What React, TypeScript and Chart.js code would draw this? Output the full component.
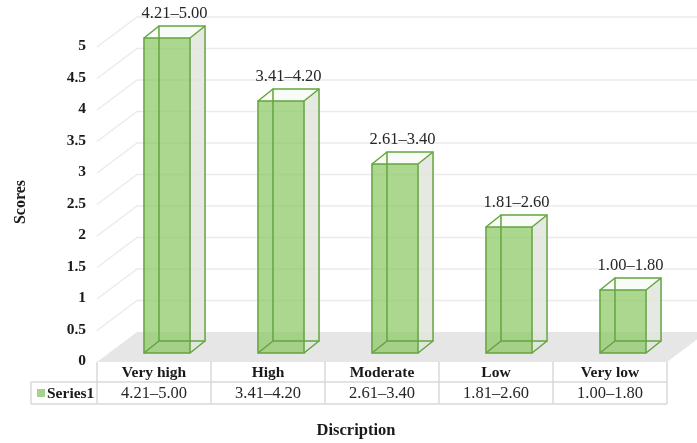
import React, { useEffect, useRef } from 'react';
import { Chart, registerables } from 'chart.js';

Chart.register(...registerables);

const categories = ['Very high', 'High', 'Moderate', 'Low', 'Very low'];
const scores = [5, 4, 3, 2, 1];
const ranges = ['4.21–5.00', '3.41–4.20', '2.61–3.40', '1.81–2.60', '1.00–1.80'];
const seriesName = 'Series1';
const yTitle = 'Scores';
const xTitle = 'Discription';
const yMin = 0;
const yMax = 5;
const yStep = 0.5;

const W = 697;
const H = 443;
const SERIF = '"Liberation Serif", "Times New Roman", serif';
const GREEN_EDGE = '#63a53f';
const GREEN_FILL = 'rgba(140,200,100,0.72)';

const WALL = { dx: 40, dy: -30 };
const FRONT = { dx: 13, dy: -9 };
const BACK = { dx: 28, dy: -21 };

const threeD = {
  id: 'threeD',
  beforeDatasetsDraw(chart: any) {
    const { ctx, chartArea: a, scales } = chart;
    const ys = scales.y;
    const y0 = ys.getPixelForValue(0);
    ctx.save();
    // floor
    ctx.fillStyle = '#e6e6e6';
    ctx.beginPath();
    ctx.moveTo(a.left, y0);
    ctx.lineTo(a.left + WALL.dx, y0 + WALL.dy);
    ctx.lineTo(a.right + WALL.dx, y0 + WALL.dy);
    ctx.lineTo(a.right, y0);
    ctx.closePath();
    ctx.fill();
    // gridlines on back wall
    ctx.strokeStyle = '#ebebeb';
    ctx.lineWidth = 1.5;
    ys.ticks.forEach((t: any) => {
      if (t.value === 0) return;
      const py = ys.getPixelForValue(t.value);
      ctx.beginPath();
      ctx.moveTo(a.left, py);
      ctx.lineTo(a.left + WALL.dx, py + WALL.dy);
      ctx.lineTo(W, py + WALL.dy);
      ctx.stroke();
    });
    ctx.restore();
  },
  afterDatasetsDraw(chart: any) {
    const { ctx } = chart;
    const meta = chart.getDatasetMeta(0);
    ctx.save();
    meta.data.forEach((el: any, i: number) => {
      const p = el.getProps(['x', 'y', 'base', 'width'], true);
      const l = p.x - p.width / 2;
      const r = p.x + p.width / 2;
      const f = { L: l + FRONT.dx, R: r + FRONT.dx, T: p.y + FRONT.dy, B: p.base + FRONT.dy };
      const b = { L: l + BACK.dx, R: r + BACK.dx, T: p.y + BACK.dy, B: p.base + BACK.dy };
      // side face
      ctx.fillStyle = 'rgba(226,229,221,0.85)';
      ctx.beginPath();
      ctx.moveTo(f.R, f.T);
      ctx.lineTo(b.R, b.T);
      ctx.lineTo(b.R, b.B);
      ctx.lineTo(f.R, f.B);
      ctx.closePath();
      ctx.fill();
      // top face
      ctx.fillStyle = 'rgba(245,248,242,0.6)';
      ctx.beginPath();
      ctx.moveTo(f.L, f.T);
      ctx.lineTo(b.L, b.T);
      ctx.lineTo(b.R, b.T);
      ctx.lineTo(f.R, f.T);
      ctx.closePath();
      ctx.fill();
      // front face
      ctx.fillStyle = GREEN_FILL;
      ctx.fillRect(f.L, f.T, f.R - f.L, f.B - f.T);
      // edges
      ctx.strokeStyle = GREEN_EDGE;
      ctx.lineWidth = 1.5;
      ctx.strokeRect(b.L, b.T, b.R - b.L, b.B - b.T);
      ctx.strokeRect(f.L, f.T, f.R - f.L, f.B - f.T);
      ctx.beginPath();
      ctx.moveTo(f.L, f.T); ctx.lineTo(b.L, b.T);
      ctx.moveTo(f.R, f.T); ctx.lineTo(b.R, b.T);
      ctx.moveTo(f.R, f.B); ctx.lineTo(b.R, b.B);
      ctx.moveTo(f.L, f.B); ctx.lineTo(b.L, b.B);
      ctx.stroke();
      // label
      ctx.fillStyle = '#262626';
      ctx.font = `16.5px ${SERIF}`;
      ctx.textAlign = 'center';
      ctx.textBaseline = 'alphabetic';
      ctx.fillText(ranges[i], (f.L + b.R) / 2, b.T - 8);
    });
    ctx.restore();
  },
  afterDraw(chart: any) {
    const { ctx, chartArea: a, scales } = chart;
    const ys = scales.y;
    const xs = scales.x;
    ctx.save();
    // y tick labels
    ctx.fillStyle = '#1a1a1a';
    ctx.font = `bold 15.5px ${SERIF}`;
    ctx.textAlign = 'right';
    ctx.textBaseline = 'middle';
    ys.ticks.forEach((t: any) => {
      ctx.fillText(String(t.value), 86, ys.getPixelForValue(t.value) - 1);
    });
    // data table
    const y0 = ys.getPixelForValue(0);
    const rowMid = y0 + 20;
    const rowBot = y0 + 42;
    const legendLeft = 31;
    const colW = (a.right - a.left) / categories.length;
    ctx.strokeStyle = '#d9d9d9';
    ctx.lineWidth = 1.5;
    ctx.beginPath();
    ctx.moveTo(legendLeft, rowMid); ctx.lineTo(a.right, rowMid);
    ctx.moveTo(legendLeft, rowBot); ctx.lineTo(a.right, rowBot);
    ctx.moveTo(legendLeft, rowMid); ctx.lineTo(legendLeft, rowBot);
    for (let i = 0; i <= categories.length; i++) {
      const x = a.left + i * colW;
      ctx.moveTo(x, y0); ctx.lineTo(x, rowBot);
    }
    ctx.stroke();
    categories.forEach((c, i) => {
      const cx = xs.getPixelForValue(i);
      ctx.fillStyle = '#1a1a1a';
      ctx.font = `bold 15.5px ${SERIF}`;
      ctx.textAlign = 'center';
      ctx.textBaseline = 'middle';
      ctx.fillText(c, cx, (y0 + rowMid) / 2 + 1);
      ctx.fillStyle = '#262626';
      ctx.font = `16.5px ${SERIF}`;
      ctx.fillText(ranges[i], cx, (rowMid + rowBot) / 2 + 1);
    });
    // legend key
    ctx.fillStyle = '#a9d18e';
    ctx.fillRect(37, (rowMid + rowBot) / 2 - 4, 8, 8);
    ctx.fillStyle = '#1a1a1a';
    ctx.font = `bold 15.5px ${SERIF}`;
    ctx.textAlign = 'left';
    ctx.textBaseline = 'middle';
    ctx.fillText(seriesName, 47, (rowMid + rowBot) / 2 + 1);
    // titles
    ctx.font = `bold 16.5px ${SERIF}`;
    ctx.textAlign = 'center';
    ctx.fillText(xTitle, 356, 431);
    ctx.save();
    ctx.translate(21, 202);
    ctx.rotate(-Math.PI / 2);
    ctx.font = `bold 16px ${SERIF}`;
    ctx.fillText(yTitle, 0, 0);
    ctx.restore();
    ctx.restore();
  },
};

export default function App() {
  const ref = useRef<HTMLCanvasElement | null>(null);
  useEffect(() => {
    if (!ref.current) return;
    const chart = new Chart(ref.current, {
      type: 'bar',
      data: {
        labels: categories,
        datasets: [
          {
            label: seriesName,
            data: scores,
            backgroundColor: 'rgba(0,0,0,0)',
            borderWidth: 0,
            barPercentage: 0.404,
            categoryPercentage: 1,
          },
        ],
      },
      options: {
        responsive: false,
        animation: false,
        layout: { padding: { left: 97, right: 30, top: 47, bottom: 81 } },
        scales: {
          x: { display: false },
          y: { display: false, min: yMin, max: yMax, ticks: { stepSize: yStep } },
        },
        plugins: { legend: { display: false }, tooltip: { enabled: false } },
      },
      plugins: [threeD],
    });
    return () => chart.destroy();
  }, []);
  return (
    <div style={{ position: 'absolute', left: 0, top: 0, width: W, height: H, background: '#fff' }}>
      <canvas ref={ref} width={W} height={H} style={{ width: W, height: H }} />
    </div>
  );
}
